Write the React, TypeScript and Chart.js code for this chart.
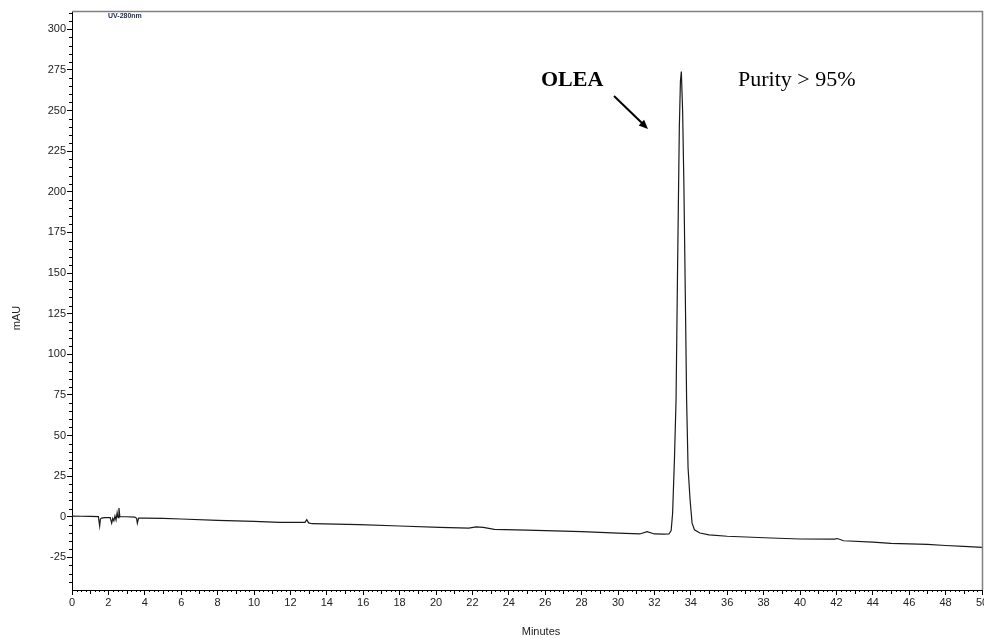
import React, { useEffect, useRef } from "react";
import { Chart, registerables } from "chart.js";

Chart.register(...registerables);

// Retention time (minutes) and absorbance (mAU)
const times: number[] = [
  0, 0.5, 1.0, 1.45, 1.52, 1.56, 1.62, 1.8, 2.1, 2.18, 2.24, 2.3, 2.36, 2.42, 2.48, 2.53, 2.58, 2.63, 2.7, 3.0, 3.45, 3.55, 3.59, 3.66, 4.0,
  5.0, 6.0, 8.0, 10.0, 11.4, 12.8, 12.9, 13.0, 13.2, 14.5, 15.8, 18.0, 20.2, 21.8, 22.2, 22.6, 23.2, 25.0, 27.0, 28.0, 30.0, 31.2,
  31.6, 32.0, 32.5, 32.8, 32.92, 33.0, 33.1, 33.19, 33.27, 33.37, 33.43, 33.48, 33.55, 33.62, 33.7, 33.77, 33.85, 33.96, 34.07,
  34.2, 34.5, 35.0, 36.0, 38.4, 40.0, 41.9, 42.05, 42.4, 44.0, 45.0, 47.0, 48.0, 49.0, 50.0,
];
const signal: number[] = [
  0.4, 0.3, 0.2, 0.1, -5.7, -1.5, -0.8, -0.6, -0.6, -4.0, -1.0, -2.5, 0.5, -2.0, 2.5, -0.5, 5.3, 0.0, 0.0, 0.0, -0.2, -1.0, -4.0, -0.8, -0.8,
  -1.0, -1.4, -2.2, -2.9, -3.5, -3.5, -1.8, -3.8, -4.3, -4.6, -4.9, -5.7, -6.6, -7.0, -6.2, -6.6, -7.8, -8.3, -8.9, -9.2, -10.1, -10.6,
  -9.2, -10.6, -10.7, -10.6, -8.5, 2.0, 35.0, 72.0, 150.0, 240.0, 268.0, 274.0, 250.0, 205.0, 135.0, 72.0, 30.0, 10.5, -4.0,
  -8.0, -10.0, -11.2, -12.0, -13.1, -13.7, -13.8, -13.4, -14.8, -15.6, -16.4, -17.0, -17.7, -18.3, -18.9,
];

const yMin = -45.1;
const yMax = 311.3;
const yStep = 25;
const xMin = 0;
const xMax = 50;
const xStep = 2;

const peakLabel = "OLEA";
const purityLabel = "Purity > 95%";
const channelLabel = "UV-280nm";
const yTitle = "mAU";
const xTitle = "Minutes";

const framePlugin = {
  id: "frameAndText",
  afterDraw(chart: any) {
    const ctx = chart.ctx as CanvasRenderingContext2D;
    const { left, right, top, bottom } = chart.chartArea;
    const xs = chart.scales.x;
    const ys = chart.scales.y;
    ctx.save();
    // frame: top and right gray
    ctx.strokeStyle = "#808080";
    ctx.lineWidth = 1.5;
    ctx.beginPath();
    ctx.moveTo(left, top + 0.5);
    ctx.lineTo(right + 0.5, top + 0.5);
    ctx.lineTo(right + 0.5, bottom);
    ctx.stroke();
    // minor ticks
    ctx.strokeStyle = "#000";
    ctx.lineWidth = 1;
    ctx.beginPath();
    for (let v = -45; v <= 310; v += 5) {
      if (v % 25 === 0) continue;
      const py = Math.round(ys.getPixelForValue(v)) + 0.5;
      if (py < top || py > bottom) continue;
      ctx.moveTo(left - 3, py);
      ctx.lineTo(left, py);
    }
    for (let k = 1; k < 200; k++) {
      const v = k * 0.25;
      if (v % 2 === 0) continue;
      const px = Math.round(xs.getPixelForValue(v)) + 0.5;
      const len = v % 1 === 0 ? 4 : 2;
      ctx.moveTo(px, bottom);
      ctx.lineTo(px, bottom + len);
    }
    ctx.stroke();

    // axis titles
    ctx.fillStyle = "#222";
    ctx.font = "11px 'Liberation Sans', Arial, sans-serif";
    ctx.textAlign = "center";
    ctx.textBaseline = "middle";
    ctx.fillText(xTitle, 541, 632);
    ctx.save();
    ctx.translate(17, 318);
    ctx.rotate(-Math.PI / 2);
    ctx.fillText(yTitle, 0, 0);
    ctx.restore();

    // channel label
    ctx.font = "bold 7px 'Liberation Sans', Arial, sans-serif";
    ctx.fillStyle = "#1a2a4a";
    ctx.textAlign = "left";
    ctx.fillText(channelLabel, 108, 16);

    // annotations
    ctx.fillStyle = "#000";
    ctx.font = "bold 22px 'Liberation Serif', 'Times New Roman', serif";
    ctx.textAlign = "left";
    ctx.textBaseline = "alphabetic";
    ctx.fillText(peakLabel, 541, 86);
    ctx.font = "22px 'Liberation Serif', 'Times New Roman', serif";
    ctx.fillText(purityLabel, 738, 86);

    // arrow
    const x1 = 614, y1 = 96, x2 = 648, y2 = 129;
    ctx.strokeStyle = "#000";
    ctx.lineWidth = 2;
    ctx.beginPath();
    ctx.moveTo(x1, y1);
    ctx.lineTo(x2 - 5, y2 - 5);
    ctx.stroke();
    const ang = Math.atan2(y2 - y1, x2 - x1);
    ctx.beginPath();
    ctx.moveTo(x2, y2);
    ctx.lineTo(x2 - 10 * Math.cos(ang - 0.4), y2 - 10 * Math.sin(ang - 0.4));
    ctx.lineTo(x2 - 10 * Math.cos(ang + 0.4), y2 - 10 * Math.sin(ang + 0.4));
    ctx.closePath();
    ctx.fill();
    ctx.restore();
  },
};

export default function App() {
  const ref = useRef<HTMLCanvasElement | null>(null);
  useEffect(() => {
    document.body.style.margin = "0";
    const canvas = ref.current;
    if (!canvas) return;
    const data = times.map((t, i) => ({ x: t, y: signal[i] }));
    const tickFont = { family: "'Liberation Sans', Arial, sans-serif", size: 11 };
    const chart = new Chart(canvas, {
      type: "line",
      data: {
        datasets: [
          {
            data,
            borderColor: "#1a1a1a",
            borderWidth: 1.2,
            pointRadius: 0,
            tension: 0,
            fill: false,
          },
        ],
      },
      options: {
        animation: false,
        responsive: false,
        devicePixelRatio: 1,
        layout: { padding: { left: 0, right: 2, top: 11, bottom: 0 } },
        plugins: { legend: { display: false }, tooltip: { enabled: false } },
        scales: {
          x: {
            type: "linear",
            min: xMin,
            max: xMax,
            afterFit: (s: any) => {
              s.height = 48;
              s.paddingLeft = 0;
              s.paddingRight = 0;
            },
            ticks: {
              stepSize: xStep,
              includeBounds: false,
              color: "#222",
              font: tickFont,
              padding: 1,
              maxRotation: 0,
              autoSkip: false,
            },
            grid: { display: true, drawOnChartArea: false, drawTicks: true, tickLength: 5, color: "#000" },
            border: { display: true, color: "#000", width: 1 },
          },
          y: {
            type: "linear",
            min: yMin,
            max: yMax,
            afterFit: (s: any) => {
              s.width = 72;
              s.paddingTop = 0;
              s.paddingBottom = 0;
            },
            ticks: {
              stepSize: yStep,
              includeBounds: false,
              color: "#222",
              font: tickFont,
              padding: 1,
              autoSkip: false,
            },
            grid: { display: true, drawOnChartArea: false, drawTicks: true, tickLength: 5, color: "#000" },
            border: { display: true, color: "#000", width: 1 },
          },
        },
      },
      plugins: [framePlugin],
    });
    return () => chart.destroy();
  }, []);
  return (
    <div style={{ position: "fixed", left: 0, top: 0, width: 984, height: 638, background: "#fff" }}>
      <canvas ref={ref} width={984} height={638} style={{ width: 984, height: 638 }} />
    </div>
  );
}
